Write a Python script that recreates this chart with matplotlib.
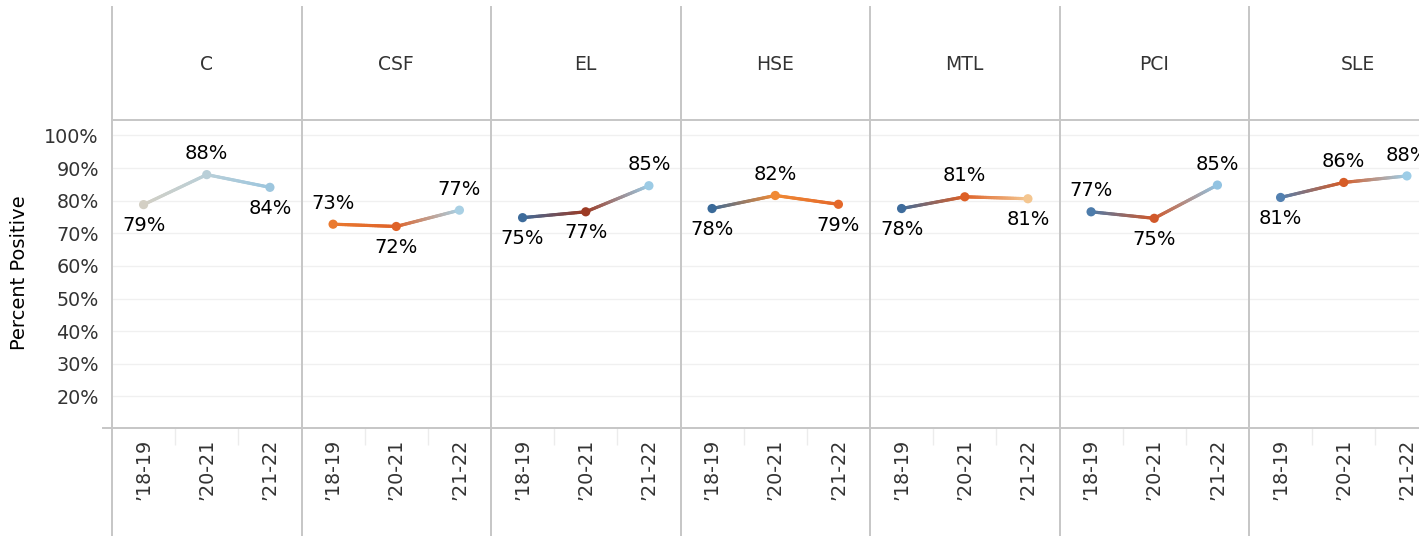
import numpy as np
import matplotlib
matplotlib.use("Agg")
import matplotlib.pyplot as plt
from matplotlib.collections import LineCollection
from matplotlib.colors import to_rgb
from matplotlib.lines import Line2D

# data
groups = ["C", "CSF", "EL", "HSE", "MTL", "PCI", "SLE"]
years = ["\u201918-19", "\u201920-21", "\u201921-22"]
pct_c = [78.8, 88.0, 84.1]
pct_csf = [72.8, 72.1, 77.1]
pct_el = [74.8, 76.6, 84.6]
pct_hse = [77.6, 81.6, 78.9]
pct_mtl = [77.6, 81.2, 80.6]
pct_pci = [76.6, 74.6, 84.8]
pct_sle = [81.0, 85.6, 87.6]
values = [pct_c, pct_csf, pct_el, pct_hse, pct_mtl, pct_pci, pct_sle]

# point colours (Tableau orange-blue diverging)
colors = [
    ["#d3cfc4", "#b9cfd8", "#9dc6de"],
    ["#ea7a30", "#df6228", "#a9d0e4"],
    ["#3d6b9b", "#9c3a24", "#9ccbe5"],
    ["#3a6a99", "#f08a35", "#e4682a"],
    ["#3e6c9c", "#dd5f26", "#f4c690"],
    ["#4d7cab", "#d1582a", "#92c3e2"],
    ["#5280b0", "#d65c27", "#9dcde7"],
]
# +1 label above the point, -1 below
label_side = [
    [-1, 1, -1], [1, -1, 1], [-1, -1, 1], [-1, 1, -1],
    [-1, 1, -1], [1, -1, 1], [-1, 1, 1],
]

W, H = 1419, 536
fig = plt.figure(figsize=(W / 100, H / 100), dpi=100)
line_col = "#c6c6c6"

left0, pane_w = 112, 189.5
top_px, bot_px = 120, 428


def gradient_line(ax, xs, ys, cols, steps=40):
    segs, segcols = [], []
    for i in range(len(xs) - 1):
        c0, c1 = np.array(to_rgb(cols[i])), np.array(to_rgb(cols[i + 1]))
        t = np.linspace(0, 1, steps + 1)
        px = xs[i] + (xs[i + 1] - xs[i]) * t
        py = ys[i] + (ys[i + 1] - ys[i]) * t
        for k in range(steps):
            segs.append([(px[k], py[k]), (px[k + 1], py[k + 1])])
            segcols.append(c0 + (c1 - c0) * (t[k] + t[k + 1]) / 2)
    lc = LineCollection(segs, colors=segcols, linewidths=2.3, capstyle="round", zorder=3)
    ax.add_collection(lc)


for i, (name, vals) in enumerate(zip(groups, values)):
    x0 = left0 + i * pane_w
    ax = fig.add_axes([x0 / W, (H - bot_px) / H, pane_w / W, (bot_px - top_px) / H])
    xs = np.arange(len(years))
    gradient_line(ax, xs, vals, colors[i])
    ax.scatter(xs, vals, s=44, c=colors[i], zorder=4, linewidths=0)
    for x, v, side in zip(xs, vals, label_side[i]):
        ax.annotate(f"{round(v):d}%", (x, v), xytext=(0, 15 * side), textcoords="offset points",
                    ha="center", va="center", fontsize=14, color="black", clip_on=False,
                    annotation_clip=False)
    ax.set_xlim(-0.5, len(years) - 0.5)
    ax.set_ylim(10.3, 104.75)
    ax.set_yticks(range(20, 101, 10))
    ax.yaxis.grid(True, color="#f0f0f0", lw=1)
    ax.set_axisbelow(True)
    for s in ax.spines.values():
        s.set_visible(False)
    ax.set_xticks(xs)
    ax.set_xticklabels(years, rotation=90, fontsize=13.8, color="#333333")
    ax.set_xticks([0.5, 1.5], minor=True)
    ax.tick_params(axis="x", which="major", length=0, pad=7.5)
    ax.tick_params(axis="x", which="minor", length=12, color="#ececec", width=1)
    ax.tick_params(axis="y", length=0, pad=9.5, labelsize=13.8, labelcolor="#333333")
    if i == 0:
        ax.set_yticklabels([f"{t}%" for t in range(20, 101, 10)])
    else:
        ax.set_yticklabels([])
    # header, last pane header sits a bit right (pane is cropped in the original)
    hx = 0.5 if i < len(groups) - 1 else (1358 - x0) / pane_w
    ax.text(hx, (bot_px - 65) / (bot_px - top_px), name, transform=ax.transAxes,
            ha="center", va="center", fontsize=13.5, color="#333333", clip_on=False)
    fig.add_artist(Line2D([x0 / W, x0 / W], [0, 1 - 7 / H], color=line_col, lw=1.4))

fig.add_artist(Line2D([left0 / W, 1], [1 - top_px / H] * 2, color=line_col, lw=1.4))
fig.add_artist(Line2D([103 / W, 1], [1 - bot_px / H] * 2, color=line_col, lw=1.4))
fig.text(20 / W, 1 - 273 / H, "Percent Positive", rotation=90, ha="center", va="center",
         fontsize=14, color="black")

fig.savefig("out.png", dpi=100)
